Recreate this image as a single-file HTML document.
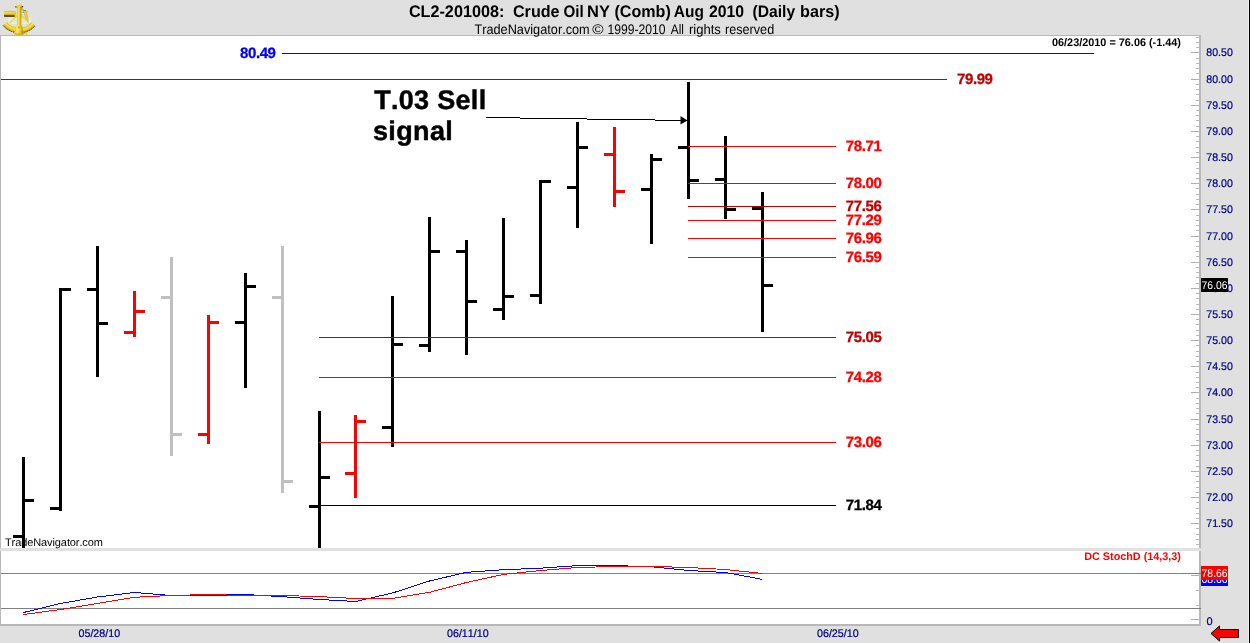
<!DOCTYPE html>
<html lang="en"><head><meta charset="utf-8"><title>CL2-201008: Crude Oil NY (Comb) Aug 2010 (Daily bars)</title>
<style>
html,body{margin:0;padding:0;background:#e0e0e0;}
body{width:1250px;height:643px;overflow:hidden;position:relative;font-family:"Liberation Sans",Arial,sans-serif;}
svg{position:absolute;left:0;top:0;display:block;}
text{font-family:"Liberation Sans",Arial,sans-serif;font-kerning:none;text-rendering:geometricPrecision;}
.b{font-weight:bold;}
.ax{font-size:11px;fill:#000080;stroke:#000080;stroke-width:0.22px;}
.lv{font-size:15px;font-weight:bold;letter-spacing:-0.4px;}
</style></head><body>
<svg width="1250" height="643" viewBox="0 0 1250 643">

<rect x="0" y="0" width="1250" height="643" fill="#e0e0e0"/>
<rect x="1248" y="0" width="1" height="643" fill="#f0f0f0"/><rect x="1249" y="0" width="1" height="643" fill="#000"/>
<g shape-rendering="crispEdges">
<rect x="0" y="35" width="1201" height="591" fill="#b8b8b8"/>
<rect x="1" y="36" width="1198" height="512" fill="#fff"/>
<rect x="0" y="548" width="1201" height="3" fill="#e0e0e0"/>
<rect x="1" y="551" width="1198" height="73" fill="#fff"/>
<rect x="1196" y="37" width="3" height="1" fill="#b8b8b8"/>
<rect x="1196" y="42" width="3" height="1" fill="#b8b8b8"/>
<rect x="1196" y="47" width="3" height="1" fill="#b8b8b8"/>
<rect x="1191" y="52" width="8" height="1" fill="#b0b0b0"/>
<rect x="1196" y="58" width="3" height="1" fill="#b8b8b8"/>
<rect x="1196" y="63" width="3" height="1" fill="#b8b8b8"/>
<rect x="1196" y="68" width="3" height="1" fill="#b8b8b8"/>
<rect x="1196" y="73" width="3" height="1" fill="#b8b8b8"/>
<rect x="1191" y="79" width="8" height="1" fill="#b0b0b0"/>
<rect x="1196" y="84" width="3" height="1" fill="#b8b8b8"/>
<rect x="1196" y="89" width="3" height="1" fill="#b8b8b8"/>
<rect x="1196" y="94" width="3" height="1" fill="#b8b8b8"/>
<rect x="1196" y="100" width="3" height="1" fill="#b8b8b8"/>
<rect x="1191" y="105" width="8" height="1" fill="#b0b0b0"/>
<rect x="1196" y="110" width="3" height="1" fill="#b8b8b8"/>
<rect x="1196" y="115" width="3" height="1" fill="#b8b8b8"/>
<rect x="1196" y="120" width="3" height="1" fill="#b8b8b8"/>
<rect x="1196" y="126" width="3" height="1" fill="#b8b8b8"/>
<rect x="1191" y="131" width="8" height="1" fill="#b0b0b0"/>
<rect x="1196" y="136" width="3" height="1" fill="#b8b8b8"/>
<rect x="1196" y="141" width="3" height="1" fill="#b8b8b8"/>
<rect x="1196" y="147" width="3" height="1" fill="#b8b8b8"/>
<rect x="1196" y="152" width="3" height="1" fill="#b8b8b8"/>
<rect x="1191" y="157" width="8" height="1" fill="#b0b0b0"/>
<rect x="1196" y="162" width="3" height="1" fill="#b8b8b8"/>
<rect x="1196" y="168" width="3" height="1" fill="#b8b8b8"/>
<rect x="1196" y="173" width="3" height="1" fill="#b8b8b8"/>
<rect x="1196" y="178" width="3" height="1" fill="#b8b8b8"/>
<rect x="1191" y="183" width="8" height="1" fill="#b0b0b0"/>
<rect x="1196" y="188" width="3" height="1" fill="#b8b8b8"/>
<rect x="1196" y="194" width="3" height="1" fill="#b8b8b8"/>
<rect x="1196" y="199" width="3" height="1" fill="#b8b8b8"/>
<rect x="1196" y="204" width="3" height="1" fill="#b8b8b8"/>
<rect x="1191" y="209" width="8" height="1" fill="#b0b0b0"/>
<rect x="1196" y="215" width="3" height="1" fill="#b8b8b8"/>
<rect x="1196" y="220" width="3" height="1" fill="#b8b8b8"/>
<rect x="1196" y="225" width="3" height="1" fill="#b8b8b8"/>
<rect x="1196" y="230" width="3" height="1" fill="#b8b8b8"/>
<rect x="1191" y="236" width="8" height="1" fill="#b0b0b0"/>
<rect x="1196" y="241" width="3" height="1" fill="#b8b8b8"/>
<rect x="1196" y="246" width="3" height="1" fill="#b8b8b8"/>
<rect x="1196" y="251" width="3" height="1" fill="#b8b8b8"/>
<rect x="1196" y="256" width="3" height="1" fill="#b8b8b8"/>
<rect x="1191" y="262" width="8" height="1" fill="#b0b0b0"/>
<rect x="1196" y="267" width="3" height="1" fill="#b8b8b8"/>
<rect x="1196" y="272" width="3" height="1" fill="#b8b8b8"/>
<rect x="1196" y="277" width="3" height="1" fill="#b8b8b8"/>
<rect x="1196" y="283" width="3" height="1" fill="#b8b8b8"/>
<rect x="1191" y="288" width="8" height="1" fill="#b0b0b0"/>
<rect x="1196" y="293" width="3" height="1" fill="#b8b8b8"/>
<rect x="1196" y="298" width="3" height="1" fill="#b8b8b8"/>
<rect x="1196" y="304" width="3" height="1" fill="#b8b8b8"/>
<rect x="1196" y="309" width="3" height="1" fill="#b8b8b8"/>
<rect x="1191" y="314" width="8" height="1" fill="#b0b0b0"/>
<rect x="1196" y="319" width="3" height="1" fill="#b8b8b8"/>
<rect x="1196" y="324" width="3" height="1" fill="#b8b8b8"/>
<rect x="1196" y="330" width="3" height="1" fill="#b8b8b8"/>
<rect x="1196" y="335" width="3" height="1" fill="#b8b8b8"/>
<rect x="1191" y="340" width="8" height="1" fill="#b0b0b0"/>
<rect x="1196" y="345" width="3" height="1" fill="#b8b8b8"/>
<rect x="1196" y="351" width="3" height="1" fill="#b8b8b8"/>
<rect x="1196" y="356" width="3" height="1" fill="#b8b8b8"/>
<rect x="1196" y="361" width="3" height="1" fill="#b8b8b8"/>
<rect x="1191" y="366" width="8" height="1" fill="#b0b0b0"/>
<rect x="1196" y="372" width="3" height="1" fill="#b8b8b8"/>
<rect x="1196" y="377" width="3" height="1" fill="#b8b8b8"/>
<rect x="1196" y="382" width="3" height="1" fill="#b8b8b8"/>
<rect x="1196" y="387" width="3" height="1" fill="#b8b8b8"/>
<rect x="1191" y="392" width="8" height="1" fill="#b0b0b0"/>
<rect x="1196" y="398" width="3" height="1" fill="#b8b8b8"/>
<rect x="1196" y="403" width="3" height="1" fill="#b8b8b8"/>
<rect x="1196" y="408" width="3" height="1" fill="#b8b8b8"/>
<rect x="1196" y="413" width="3" height="1" fill="#b8b8b8"/>
<rect x="1191" y="419" width="8" height="1" fill="#b0b0b0"/>
<rect x="1196" y="424" width="3" height="1" fill="#b8b8b8"/>
<rect x="1196" y="429" width="3" height="1" fill="#b8b8b8"/>
<rect x="1196" y="434" width="3" height="1" fill="#b8b8b8"/>
<rect x="1196" y="440" width="3" height="1" fill="#b8b8b8"/>
<rect x="1191" y="445" width="8" height="1" fill="#b0b0b0"/>
<rect x="1196" y="450" width="3" height="1" fill="#b8b8b8"/>
<rect x="1196" y="455" width="3" height="1" fill="#b8b8b8"/>
<rect x="1196" y="460" width="3" height="1" fill="#b8b8b8"/>
<rect x="1196" y="466" width="3" height="1" fill="#b8b8b8"/>
<rect x="1191" y="471" width="8" height="1" fill="#b0b0b0"/>
<rect x="1196" y="476" width="3" height="1" fill="#b8b8b8"/>
<rect x="1196" y="481" width="3" height="1" fill="#b8b8b8"/>
<rect x="1196" y="487" width="3" height="1" fill="#b8b8b8"/>
<rect x="1196" y="492" width="3" height="1" fill="#b8b8b8"/>
<rect x="1191" y="497" width="8" height="1" fill="#b0b0b0"/>
<rect x="1196" y="502" width="3" height="1" fill="#b8b8b8"/>
<rect x="1196" y="508" width="3" height="1" fill="#b8b8b8"/>
<rect x="1196" y="513" width="3" height="1" fill="#b8b8b8"/>
<rect x="1196" y="518" width="3" height="1" fill="#b8b8b8"/>
<rect x="1191" y="523" width="8" height="1" fill="#b0b0b0"/>
<rect x="1196" y="528" width="3" height="1" fill="#b8b8b8"/>
<rect x="1196" y="534" width="3" height="1" fill="#b8b8b8"/>
<rect x="1196" y="539" width="3" height="1" fill="#b8b8b8"/>
<rect x="1196" y="544" width="3" height="1" fill="#b8b8b8"/>
<rect x="1191" y="575" width="8" height="1" fill="#b0b0b0"/>
<rect x="1196" y="590" width="3" height="1" fill="#b8b8b8"/>
<rect x="1196" y="605" width="3" height="1" fill="#b8b8b8"/>
<rect x="1191" y="619" width="8" height="1" fill="#b0b0b0"/>
<rect x="1" y="573" width="1200" height="1" fill="#808080"/>
<rect x="1" y="608" width="1200" height="1" fill="#808080"/>
</g>
<text x="5" y="546" font-size="11" fill="#000" letter-spacing="-0.1">TradeNavigator.com</text>
<g shape-rendering="crispEdges">
<rect x="22" y="457" width="3" height="91" fill="#000"/><rect x="13" y="535" width="9" height="3" fill="#000"/><rect x="25" y="499" width="9" height="3" fill="#000"/>
<rect x="59" y="288" width="3" height="223" fill="#000"/><rect x="50" y="507" width="9" height="3" fill="#000"/><rect x="62" y="288" width="9" height="3" fill="#000"/>
<rect x="96" y="246" width="3" height="131" fill="#000"/><rect x="87" y="288" width="9" height="3" fill="#000"/><rect x="99" y="322" width="9" height="3" fill="#000"/>
<rect x="133" y="291" width="3" height="46" fill="#ff0000"/><rect x="124" y="331" width="9" height="3" fill="#ff0000"/><rect x="136" y="310" width="9" height="3" fill="#ff0000"/>
<rect x="170" y="257" width="3" height="199" fill="#c0c0c0"/><rect x="161" y="296" width="9" height="3" fill="#c0c0c0"/><rect x="173" y="433" width="9" height="3" fill="#c0c0c0"/>
<rect x="207" y="315" width="3" height="129" fill="#ff0000"/><rect x="198" y="433" width="9" height="3" fill="#ff0000"/><rect x="210" y="321" width="9" height="3" fill="#ff0000"/>
<rect x="244" y="273" width="3" height="115" fill="#000"/><rect x="235" y="321" width="9" height="3" fill="#000"/><rect x="247" y="285" width="9" height="3" fill="#000"/>
<rect x="281" y="246" width="3" height="247" fill="#c0c0c0"/><rect x="272" y="296" width="9" height="3" fill="#c0c0c0"/><rect x="284" y="480" width="9" height="3" fill="#c0c0c0"/>
<rect x="318" y="411" width="3" height="137" fill="#000"/><rect x="309" y="505" width="9" height="3" fill="#000"/><rect x="321" y="476" width="9" height="3" fill="#000"/>
<rect x="354" y="415" width="3" height="83" fill="#ff0000"/><rect x="345" y="472" width="9" height="3" fill="#ff0000"/><rect x="357" y="420" width="9" height="3" fill="#ff0000"/>
<rect x="391" y="296" width="3" height="151" fill="#000"/><rect x="382" y="426" width="9" height="3" fill="#000"/><rect x="394" y="343" width="9" height="3" fill="#000"/>
<rect x="428" y="217" width="3" height="135" fill="#000"/><rect x="419" y="344" width="9" height="3" fill="#000"/><rect x="431" y="250" width="9" height="3" fill="#000"/>
<rect x="465" y="240" width="3" height="115" fill="#000"/><rect x="456" y="250" width="9" height="3" fill="#000"/><rect x="468" y="300" width="9" height="3" fill="#000"/>
<rect x="502" y="218" width="3" height="102" fill="#000"/><rect x="493" y="308" width="9" height="3" fill="#000"/><rect x="505" y="295" width="9" height="3" fill="#000"/>
<rect x="539" y="180" width="3" height="124" fill="#000"/><rect x="530" y="294" width="9" height="3" fill="#000"/><rect x="542" y="180" width="9" height="3" fill="#000"/>
<rect x="576" y="122" width="3" height="106" fill="#000"/><rect x="567" y="186" width="9" height="3" fill="#000"/><rect x="579" y="146" width="9" height="3" fill="#000"/>
<rect x="613" y="127" width="3" height="80" fill="#ff0000"/><rect x="604" y="153" width="9" height="3" fill="#ff0000"/><rect x="616" y="190" width="9" height="3" fill="#ff0000"/>
<rect x="650" y="154" width="3" height="90" fill="#000"/><rect x="641" y="188" width="9" height="3" fill="#000"/><rect x="653" y="158" width="9" height="3" fill="#000"/>
<rect x="687" y="82" width="3" height="117" fill="#000"/><rect x="678" y="146" width="9" height="3" fill="#000"/><rect x="690" y="179" width="9" height="3" fill="#000"/>
<rect x="724" y="136" width="3" height="83" fill="#000"/><rect x="715" y="178" width="9" height="3" fill="#000"/><rect x="727" y="208" width="9" height="3" fill="#000"/>
<rect x="761" y="192" width="3" height="140" fill="#000"/><rect x="752" y="207" width="9" height="3" fill="#000"/><rect x="764" y="284" width="9" height="3" fill="#000"/>
<rect x="282" y="53" width="812" height="1" fill="#0000ff"/>
<rect x="1" y="79" width="946" height="1" fill="#c00000"/>
<rect x="688" y="146" width="148" height="1" fill="#ff0000"/>
<rect x="688" y="183" width="148" height="1" fill="#ff0000"/>
<rect x="688" y="206" width="148" height="1" fill="#c00000"/>
<rect x="688" y="220" width="148" height="1" fill="#ff0000"/>
<rect x="688" y="238" width="148" height="1" fill="#ff0000"/>
<rect x="688" y="257" width="148" height="1" fill="#ff0000"/>
<rect x="319" y="337" width="517" height="1" fill="#c00000"/>
<rect x="319" y="377" width="517" height="1" fill="#ff0000"/>
<rect x="319" y="442" width="517" height="1" fill="#ff0000"/>
<rect x="319" y="505" width="517" height="1" fill="#000"/>
<rect x="486" y="117" width="34" height="1" fill="#000"/><rect x="520" y="118" width="67" height="1" fill="#000"/><rect x="587" y="119" width="68" height="1" fill="#000"/><rect x="655" y="120" width="27" height="1" fill="#000"/>
</g>
<polygon points="680.5,116 687.5,120.5 680.5,124.5" fill="#000"/>
<polyline points="23.5,612.5 60.5,603.5 97.5,597.0 134.5,592.5 171.5,595.5 208.5,595.5 245.5,594.5 282.5,596.7 319.5,599.5 355.5,601.5 392.5,593.0 429.5,581.0 466.5,572.3 503.5,569.7 540.5,568.2 577.5,565.6 614.5,565.6 651.5,566.7 688.5,570.5 725.5,572.5 762.5,579.4" fill="none" stroke="#0000ff" stroke-width="1" shape-rendering="crispEdges"/>
<polyline points="23.5,614.5 60.5,609.5 97.5,603.5 134.5,597.3 171.5,595.4 208.5,594.6 245.5,595.4 282.5,595.5 319.5,596.6 355.5,598.5 392.5,598.4 429.5,592.3 466.5,582.5 503.5,574.4 540.5,570.5 577.5,567.5 614.5,566.5 651.5,566.4 688.5,567.5 725.5,569.5 762.5,573.5" fill="none" stroke="#ff0000" stroke-width="1" shape-rendering="crispEdges"/>
<text x="240" y="58" class="lv" fill="#0000ff" stroke="#0000ff" stroke-width="0.3">80.49</text>
<text x="957" y="84" class="lv" fill="#c00000" stroke="#c00000" stroke-width="0.3">79.99</text>
<text x="845.8" y="151" class="lv" fill="#ff0000" stroke="#ff0000" stroke-width="0.3">78.71</text>
<text x="845.8" y="188" class="lv" fill="#ff0000" stroke="#ff0000" stroke-width="0.3">78.00</text>
<text x="845.8" y="211" class="lv" fill="#c00000" stroke="#c00000" stroke-width="0.3">77.56</text>
<text x="845.8" y="225" class="lv" fill="#ff0000" stroke="#ff0000" stroke-width="0.3">77.29</text>
<text x="845.8" y="243" class="lv" fill="#ff0000" stroke="#ff0000" stroke-width="0.3">76.96</text>
<text x="845.8" y="262" class="lv" fill="#ff0000" stroke="#ff0000" stroke-width="0.3">76.59</text>
<text x="845.8" y="342" class="lv" fill="#c00000" stroke="#c00000" stroke-width="0.3">75.05</text>
<text x="845.8" y="382" class="lv" fill="#ff0000" stroke="#ff0000" stroke-width="0.3">74.28</text>
<text x="845.8" y="447" class="lv" fill="#ff0000" stroke="#ff0000" stroke-width="0.3">73.06</text>
<text x="845.8" y="510" class="lv" fill="#000" stroke="#000" stroke-width="0.3">71.84</text>
<text x="374.2" y="108.7" font-size="27" class="b" fill="#000" stroke="#000" stroke-width="0.45" letter-spacing="0.3">T.03 Sell</text>
<text x="373" y="140.4" font-size="27" class="b" fill="#000" stroke="#000" stroke-width="0.45" letter-spacing="0.35">signal</text>
<text x="408.92" y="17" font-size="16.7" class="b" fill="#000" textLength="95.37" lengthAdjust="spacingAndGlyphs">CL2-201008:</text>
<text x="512.96" y="17" font-size="16.7" class="b" fill="#000" textLength="46.63" lengthAdjust="spacingAndGlyphs">Crude</text>
<text x="563.5" y="17" font-size="16.7" class="b" fill="#000" textLength="20.22" lengthAdjust="spacingAndGlyphs">Oil</text>
<text x="587.08" y="17" font-size="16.7" class="b" fill="#000" textLength="22.84" lengthAdjust="spacingAndGlyphs">NY</text>
<text x="614.42" y="17" font-size="16.7" class="b" fill="#000" textLength="56.34" lengthAdjust="spacingAndGlyphs">(Comb)</text>
<text x="673.8" y="17" font-size="16.7" class="b" fill="#000" textLength="30.1" lengthAdjust="spacingAndGlyphs">Aug</text>
<text x="708.92" y="17" font-size="16.7" class="b" fill="#000" textLength="35.09" lengthAdjust="spacingAndGlyphs">2010</text>
<text x="752.5" y="17" font-size="16.7" class="b" fill="#000" textLength="42.68" lengthAdjust="spacingAndGlyphs">(Daily</text>
<text x="800.04" y="17" font-size="16.7" class="b" fill="#000" textLength="39.59" lengthAdjust="spacingAndGlyphs">bars)</text>
<text x="474.42" y="34" font-size="13.8" fill="#000" textLength="115.31" lengthAdjust="spacingAndGlyphs">TradeNavigator.com</text>
<text x="592.38" y="34" font-size="13.8" fill="#000" textLength="11.3" lengthAdjust="spacingAndGlyphs">©</text>
<text x="607.5" y="34" font-size="13.8" fill="#000" textLength="58.12" lengthAdjust="spacingAndGlyphs">1999-2010</text>
<text x="670.8" y="34" font-size="13.8" fill="#000" textLength="13.21" lengthAdjust="spacingAndGlyphs">All</text>
<text x="688.92" y="34" font-size="13.8" fill="#000" textLength="31.98" lengthAdjust="spacingAndGlyphs">rights</text>
<text x="725.04" y="34" font-size="13.8" fill="#000" textLength="49.14" lengthAdjust="spacingAndGlyphs">reserved</text>
<text x="1052" y="45.6" font-size="11" class="b" fill="#000" textLength="129" lengthAdjust="spacingAndGlyphs">06/23/2010 = 76.06 (-1.44)</text>
<text x="1084.2" y="560.2" font-size="11" class="b" fill="#ff0000" textLength="96.8" lengthAdjust="spacingAndGlyphs">DC StochD (14,3,3)</text>
<text x="1206.3" y="56" class="ax" textLength="26.5" lengthAdjust="spacingAndGlyphs">80.50</text>
<text x="1206.3" y="83" class="ax" textLength="26.5" lengthAdjust="spacingAndGlyphs">80.00</text>
<text x="1206.3" y="109" class="ax" textLength="26.5" lengthAdjust="spacingAndGlyphs">79.50</text>
<text x="1206.3" y="135" class="ax" textLength="26.5" lengthAdjust="spacingAndGlyphs">79.00</text>
<text x="1206.3" y="161" class="ax" textLength="26.5" lengthAdjust="spacingAndGlyphs">78.50</text>
<text x="1206.3" y="187" class="ax" textLength="26.5" lengthAdjust="spacingAndGlyphs">78.00</text>
<text x="1206.3" y="213" class="ax" textLength="26.5" lengthAdjust="spacingAndGlyphs">77.50</text>
<text x="1206.3" y="240" class="ax" textLength="26.5" lengthAdjust="spacingAndGlyphs">77.00</text>
<text x="1206.3" y="266" class="ax" textLength="26.5" lengthAdjust="spacingAndGlyphs">76.50</text>
<text x="1206.3" y="292" class="ax" textLength="26.5" lengthAdjust="spacingAndGlyphs">76.00</text>
<text x="1206.3" y="318" class="ax" textLength="26.5" lengthAdjust="spacingAndGlyphs">75.50</text>
<text x="1206.3" y="344" class="ax" textLength="26.5" lengthAdjust="spacingAndGlyphs">75.00</text>
<text x="1206.3" y="370" class="ax" textLength="26.5" lengthAdjust="spacingAndGlyphs">74.50</text>
<text x="1206.3" y="396" class="ax" textLength="26.5" lengthAdjust="spacingAndGlyphs">74.00</text>
<text x="1206.3" y="423" class="ax" textLength="26.5" lengthAdjust="spacingAndGlyphs">73.50</text>
<text x="1206.3" y="449" class="ax" textLength="26.5" lengthAdjust="spacingAndGlyphs">73.00</text>
<text x="1206.3" y="475" class="ax" textLength="26.5" lengthAdjust="spacingAndGlyphs">72.50</text>
<text x="1206.3" y="501" class="ax" textLength="26.5" lengthAdjust="spacingAndGlyphs">72.00</text>
<text x="1206.3" y="527" class="ax" textLength="26.5" lengthAdjust="spacingAndGlyphs">71.50</text>
<text x="1206.5" y="625" class="ax">0</text>
<rect x="1201" y="278" width="27" height="14" fill="#000" shape-rendering="crispEdges"/><text x="1201.6" y="289" font-size="11" fill="#fff" textLength="26" lengthAdjust="spacingAndGlyphs">76.06</text>
<rect x="1201" y="572" width="27" height="14" fill="#0000ff" shape-rendering="crispEdges"/><text x="1201.6" y="583" font-size="11" fill="#fff" textLength="26" lengthAdjust="spacingAndGlyphs">68.66</text>
<rect x="1201" y="566" width="27" height="14" fill="#ff0000" shape-rendering="crispEdges"/><text x="1201.6" y="577" font-size="11" fill="#fff" textLength="26" lengthAdjust="spacingAndGlyphs">78.66</text>
<text x="78.5" y="637" class="ax" textLength="41.6" lengthAdjust="spacingAndGlyphs">05/28/10</text>
<text x="447" y="637" class="ax" textLength="41.6" lengthAdjust="spacingAndGlyphs">06/11/10</text>
<text x="817" y="637" class="ax" textLength="41.6" lengthAdjust="spacingAndGlyphs">06/25/10</text>
<polygon points="1211,633.5 1219.5,626 1219.5,629.5 1238.5,629.5 1238.5,637.5 1219.5,637.5 1219.5,641" fill="#ff0000" stroke="#000" stroke-width="1" stroke-linejoin="miter"/>
<defs>
<linearGradient id="gv" x1="0" y1="0" x2="0" y2="1"><stop offset="0" stop-color="#8f84d0"/><stop offset="0.12" stop-color="#f4e060"/><stop offset="0.35" stop-color="#f6dc34"/><stop offset="0.62" stop-color="#d4ae0c"/><stop offset="0.82" stop-color="#4a3600"/><stop offset="1" stop-color="#1c1000"/></linearGradient>
<linearGradient id="gh" x1="0" y1="0" x2="1" y2="0"><stop offset="0" stop-color="#dcb610"/><stop offset="0.3" stop-color="#fbe95e"/><stop offset="0.65" stop-color="#e8c61c"/><stop offset="1" stop-color="#9c7a00"/></linearGradient>
<radialGradient id="ga" cx="19.3" cy="11.3" r="21.5" gradientUnits="userSpaceOnUse"><stop offset="0.76" stop-color="#d8b418"/><stop offset="0.84" stop-color="#f8e44c"/><stop offset="0.93" stop-color="#e8c61a"/><stop offset="1" stop-color="#b08a00"/></radialGradient>
</defs>
<g id="sextant">
<path d="M8,17.5 L31,17.5 L31,24 L8,24 Z" fill="#f2f2f2" opacity="0.55"/>
<path d="M17.6,15 L9.6,23.2 M21,15 L29.2,23.2" stroke="#efd83e" stroke-width="1.5" fill="none"/>
<path d="M12.6,21.2 L26.6,21.2" stroke="#dcd8f4" stroke-width="0.9" fill="none"/>
<path d="M12,19.4 L17,19 M21.6,19 L26.6,19.4" stroke="#f5e255" stroke-width="1.1" fill="none"/>
<path d="M21.4,8.4 L24.6,11.4" stroke="#b89a18" stroke-width="1.2" fill="none"/>
<path d="M23.6,11.6 L25.6,10.2 L27.4,11.4 L26.6,14.2 L28,17.6 L28.2,21.4 L26.6,20 L25,17 L24.6,14 Z" fill="#ecd034" stroke="#c0a010" stroke-width="0.4"/>
<rect x="24.2" y="10" width="1.8" height="0.9" fill="#7a7a66"/>
<rect x="22.6" y="11.8" width="1.4" height="1.2" fill="#8a84e0"/>
<path d="M3.07,25.4 A21.5,21.5 0 0 0 35.28,25.69 L31.56,22.34 A16.5,16.5 0 0 1 6.85,22.13 Z" fill="url(#ga)"/>
<path d="M3.2,25.7 A21.5,21.5 0 0 0 35.1,26" fill="none" stroke="#3c2a00" stroke-width="1" stroke-dasharray="1.3 1"/>
<rect x="4" y="11.1" width="11.6" height="5.7" rx="0.7" fill="url(#gv)"/>
<rect x="14.6" y="11.8" width="1.6" height="5.4" rx="0.6" fill="#e9cb28"/>
<rect x="15" y="6.2" width="8" height="1.9" rx="0.7" fill="#c09c0c"/>
<path d="M17.1,6.5 L21.4,6.5 L21.2,26 L17.2,26 Z" fill="url(#gh)"/>
<path d="M16.1,25.2 L21.9,25.2 L23.7,34.4 L14.1,34.4 Z" fill="url(#gh)"/>
<ellipse cx="18.9" cy="34.1" rx="4.7" ry="0.7" fill="#c8a40c"/>
<path d="M16.6,5.6 Q16.6,2.9 19.3,2.9 Q22.1,2.9 22.1,5.6 L22.1,6.6 L16.6,6.6 Z" fill="#f0d32e"/>
<ellipse cx="18.7" cy="4.1" rx="1.3" ry="0.8" fill="#fff390"/>
<rect x="21.8" y="6" width="1.3" height="1" fill="#1a1400"/>
<rect x="15" y="6" width="1.2" height="1" fill="#a88800"/>
<rect x="23.6" y="33" width="2.4" height="0.8" fill="#e6c41e"/>
<rect x="25.9" y="32.1" width="1.3" height="2.9" rx="0.3" fill="#ecca24"/>
<rect x="16.6" y="29.6" width="4.6" height="0.8" fill="#f8ecac" opacity="0.75"/>
<circle cx="18.9" cy="27.4" r="0.8" fill="#c49e08"/>
</g>

</svg></body></html>
